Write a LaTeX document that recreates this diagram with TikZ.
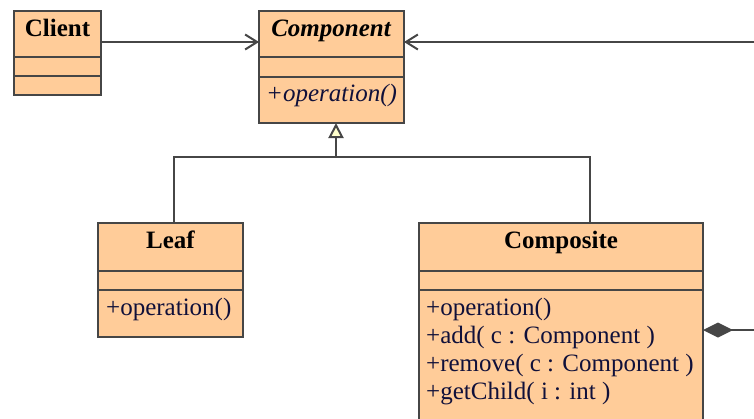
\documentclass[tikz,border=0pt]{standalone}
\usepackage{fontspec}
\setmainfont{Liberation Serif}
\usetikzlibrary{arrows.meta}
\definecolor{classfill}{HTML}{FFCC99}
\definecolor{edge}{HTML}{464646}
\definecolor{membertext}{HTML}{10103A}
\definecolor{trifill}{HTML}{FFFFCC}
\begin{document}
\begin{tikzpicture}[x=1pt,y=-1pt,
  classbox/.style={draw=edge, fill=classfill, line width=2pt, inner sep=0pt, outer sep=0pt, anchor=north west},
  divider/.style={draw=edge, line width=2pt},
  title/.style={font=\fontsize{25}{28}\selectfont\bfseries, anchor=base, inner sep=0pt},
  member/.style={font=\fontsize{25}{28}\selectfont, text=membertext, anchor=base west, inner sep=0pt},
  link/.style={draw=edge, line width=2pt},
  assoc/.style={link, -{Straight Barb[length=12pt,width=15pt,line width=2pt]}},
  inherit/.style={link, -{Triangle[open, length=15pt, width=15pt, fill=trifill, line width=2pt]}},
  compose/.style={link, {Diamond[length=30pt,width=15pt,fill=edge]}-},
]
\clip (0,0) rectangle (754,418);

% class boxes
\node[classbox, minimum width=87pt,  minimum height=84pt]  (client)    at (14,11)   {};
\node[classbox, minimum width=145pt, minimum height=112pt] (component) at (259,11)  {};
\node[classbox, minimum width=145pt, minimum height=114pt] (leaf)      at (98,223)  {};
\node[classbox, minimum width=284pt, minimum height=220pt] (composite) at (419,223) {};

% compartments
\draw[divider] (client.west |- 0,57) -- (client.east |- 0,57);
\draw[divider] (client.west |- 0,76) -- (client.east |- 0,76);
\draw[divider] (component.west |- 0,57) -- (component.east |- 0,57);
\draw[divider] (component.west |- 0,77) -- (component.east |- 0,77);
\draw[divider] (leaf.west |- 0,271) -- (leaf.east |- 0,271);
\draw[divider] (leaf.west |- 0,290) -- (leaf.east |- 0,290);
\draw[divider] (composite.west |- 0,271) -- (composite.east |- 0,271);
\draw[divider] (composite.west |- 0,290) -- (composite.east |- 0,290);

% names
\node[title] (clientname)    at (57.5,36)  {Client};
\node[title, font=\fontsize{25}{28}\selectfont\bfseries\itshape] (componentname) at (331,36) {Component};
\node[title] (leafname)      at (170.5,248) {Leaf};
\node[title] (compositename) at (561,248)  {Composite};

% operations
\node[member, font=\fontsize{25}{28}\selectfont\itshape] (compop) at (266,101) {+operation()};
\node[member] (leafop)    at (106,315) {+operation()};
\node[member] (compoop)   at (426,315) {+operation()};
\node[member] (compadd)   at (426,343) {+add( c : Component )};
\node[member] (comprem)   at (426,371) {+remove( c : Component )};
\node[member] (compchild) at (426,399) {+getChild( i : int )};

% connectors
\coordinate (children) at (760,42);
\coordinate (bus) at (336,157);
\coordinate (parts) at (760,330);

\draw[assoc] ([yshift=-31pt]client.north east) -- ([yshift=-31pt]component.north west);
\draw[assoc] (children) -- ([yshift=-31pt]component.north east);
\draw[link] ([xshift=3.5pt]leaf.north) |- (bus) -| ([xshift=29pt]composite.north);
\draw[inherit] (bus) -- ([xshift=4.5pt]component.south);
\draw[compose] ([yshift=-107pt]composite.north east) -- (parts);
\end{tikzpicture}
\end{document}
